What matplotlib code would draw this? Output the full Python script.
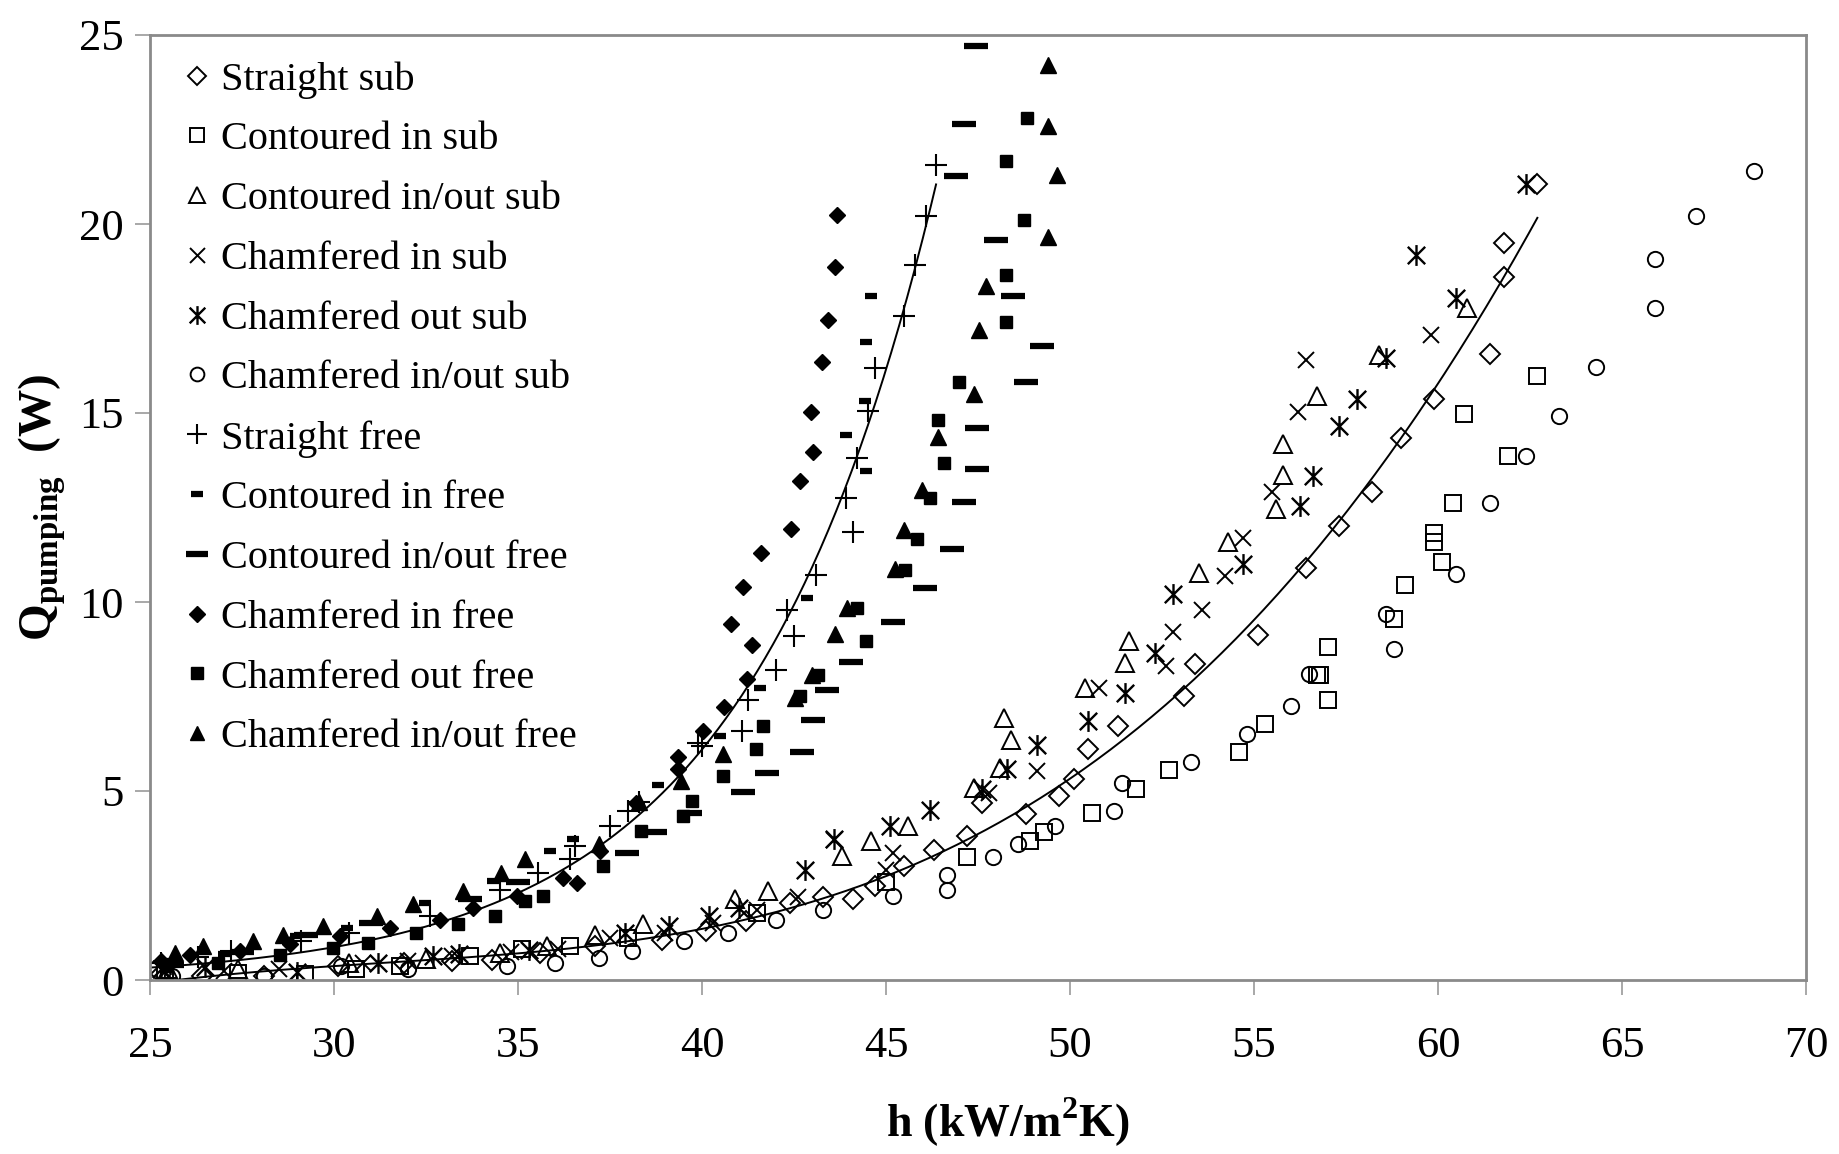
import numpy as np
import matplotlib
matplotlib.use("Agg")
import matplotlib.pyplot as plt
from matplotlib.path import Path

# ---------------- data (h in kW/m2K, Q in W) ----------------
straight_sub_h = [25.3, 26.4, 28.1, 30.1, 31.9, 33.2, 34.3, 35.6, 37.1, 38.9, 40.1, 41.2, 42.4, 43.3, 44.1,
                  44.7, 45.5, 46.3, 47.2, 47.6, 48.8, 49.7, 50.1, 50.5, 51.3, 53.1, 53.4, 55.1, 56.4, 57.3,
                  58.2, 59.0, 59.9, 61.4, 61.8, 61.8, 62.7]
straight_sub_q = [0.15, 0.10, 0.10, 0.37, 0.45, 0.50, 0.54, 0.72, 0.89, 1.07, 1.30, 1.55, 2.04, 2.20, 2.13,
                  2.48, 3.01, 3.45, 3.80, 4.69, 4.38, 4.86, 5.32, 6.10, 6.73, 7.52, 8.37, 9.12, 10.89, 12.02,
                  12.90, 14.33, 15.36, 16.56, 18.61, 19.51, 21.07]

cont_in_sub_h = [25.4, 27.4, 29.2, 30.6, 31.8, 33.7, 35.1, 36.4, 38.0, 41.5, 45.0, 47.2, 48.9, 49.3, 50.6,
                 51.8, 52.7, 54.6, 55.3, 56.7, 56.8, 57.0, 57.0, 58.8, 59.1, 59.9, 59.9, 60.1, 60.4, 60.7,
                 61.9, 62.7]
cont_in_sub_q = [0.20, 0.19, 0.15, 0.30, 0.37, 0.63, 0.81, 0.89, 1.10, 1.78, 2.60, 3.26, 3.67, 3.91, 4.42,
                 5.06, 5.55, 6.03, 6.76, 8.08, 8.08, 7.42, 8.80, 9.55, 10.45, 11.82, 11.58, 11.07, 12.62, 14.98,
                 13.85, 15.97]

cont_io_sub_h = [25.5, 27.4, 30.4, 32.5, 34.5, 35.8, 37.1, 38.4, 40.9, 41.8, 43.8, 44.6, 45.6, 47.4, 48.1,
                 48.4, 48.2, 50.4, 51.5, 51.6, 53.5, 54.3, 55.6, 55.8, 55.8, 56.7, 58.4, 60.8]
cont_io_sub_q = [0.30, 0.28, 0.45, 0.55, 0.72, 0.89, 1.20, 1.47, 2.13, 2.35, 3.27, 3.67, 4.07, 5.08, 5.61,
                 6.36, 6.93, 7.73, 8.39, 8.96, 10.76, 11.60, 12.47, 13.37, 14.17, 15.45, 16.54, 17.77]

cham_in_sub_h = [25.4, 27.0, 28.5, 30.8, 32.0, 33.2, 34.8, 36.1, 37.5, 39.0, 40.3, 41.5, 42.6, 43.6, 45.0,
                 45.2, 47.8, 49.1, 50.8, 52.6, 52.8, 53.6, 54.2, 54.7, 55.5, 56.2, 56.4, 59.8]
cham_in_sub_q = [0.20, 0.25, 0.30, 0.45, 0.50, 0.63, 0.75, 0.81, 1.10, 1.25, 1.50, 1.85, 2.20, 3.70, 2.92,
                 3.36, 4.95, 5.52, 7.73, 8.30, 9.20, 9.80, 10.70, 11.70, 12.90, 15.03, 16.39, 17.06]

cham_out_sub_h = [25.3, 26.5, 29.0, 31.2, 32.7, 33.4, 35.3, 37.9, 39.1, 40.2, 41.0, 42.8, 43.6, 45.1, 46.2,
                  47.6, 48.3, 49.1, 50.5, 51.5, 52.3, 52.8, 54.7, 56.25, 56.6, 57.3, 57.8, 58.6, 59.4, 60.5,
                  62.4]
cham_out_sub_q = [0.30, 0.35, 0.20, 0.45, 0.63, 0.68, 0.80, 1.25, 1.42, 1.69, 1.90, 2.92, 3.72, 4.07, 4.51,
                  5.04, 5.57, 6.23, 6.85, 7.60, 8.65, 10.20, 11.00, 12.53, 13.33, 14.65, 15.36, 16.45, 19.19, 18.05,
                  21.07]

cham_io_sub_h = [25.6, 28.1, 30.2, 32.0, 34.7, 36.0, 37.2, 38.1, 39.5, 40.7, 42.0, 43.3, 45.2, 46.65, 46.65,
                 47.9, 48.6, 49.6, 51.2, 51.4, 53.3, 54.8, 56.0, 56.5, 58.6, 58.8, 60.5, 61.4, 62.4, 63.3,
                 64.3, 65.9, 65.9, 67.0, 68.6]
cham_io_sub_q = [0.10, 0.10, 0.37, 0.30, 0.37, 0.45, 0.59, 0.76, 1.03, 1.25, 1.60, 1.86, 2.22, 2.79, 2.38,
                 3.26, 3.61, 4.07, 4.47, 5.22, 5.76, 6.52, 7.26, 8.10, 9.68, 8.75, 10.75, 12.62, 13.85, 14.91,
                 16.21, 17.77, 19.07, 20.20, 21.40]

straight_free_h = [25.3, 26.3, 27.2, 29.1, 30.4, 32.6, 34.5, 35.55, 36.4, 36.55, 37.5, 38.0, 38.3, 39.9, 40.0,
                   41.1, 41.25, 42.0, 42.5, 42.3, 43.1, 43.9, 44.1, 44.2, 44.5, 44.7, 45.5, 45.8, 46.1, 46.36]
straight_free_q = [0.45, 0.60, 0.76, 1.03, 1.25, 1.69, 2.39, 2.84, 3.19, 3.54, 4.07, 4.47, 4.70, 6.27, 6.20,
                   6.58, 7.42, 8.21, 9.09, 9.80, 10.72, 12.75, 11.84, 13.81, 15.04, 16.19, 17.56, 18.92, 20.22, 21.57]

cont_in_free_h = [25.5, 27.0, 28.98, 30.34, 32.47, 34.33, 35.87, 36.5, 38.8, 40.49, 41.57, 42.84, 43.91, 44.43,
                  44.47, 44.47, 44.58]
cont_in_free_q = [0.50, 0.70, 1.16, 1.38, 2.04, 2.61, 3.41, 3.72, 5.15, 6.45, 7.73, 10.11, 14.43, 15.31,
                  13.46, 16.87, 18.10]

cont_io_free_h = [25.6, 27.5, 29.25, 31.0, 33.69, 35.0, 37.95, 38.72, 39.67, 41.12, 41.76, 42.71, 43.02, 43.39,
                  44.04, 45.2, 46.06, 46.78, 47.13, 47.46, 47.46, 48.8, 49.23, 48.46, 47.98, 46.9, 47.13, 47.44]
cont_io_free_q = [0.40, 0.75, 1.20, 1.50, 2.13, 2.60, 3.36, 3.91, 4.42, 4.97, 5.48, 6.03, 6.87, 7.66,
                  8.41, 9.46, 10.37, 11.40, 12.64, 13.52, 14.60, 15.81, 16.78, 18.10, 19.57, 21.28, 22.65, 24.70]

cham_in_free_h = [25.3, 26.08, 27.44, 28.8, 30.16, 31.52, 32.88, 33.78, 34.96, 36.23, 36.59, 37.23, 38.22, 39.35,
                  39.35, 40.03, 40.6, 41.21, 41.35, 40.79, 41.12, 41.59, 42.43, 42.66, 42.95, 43.02, 43.27, 43.43,
                  43.61, 43.68]
cham_in_free_q = [0.50, 0.67, 0.76, 0.94, 1.16, 1.38, 1.60, 1.91, 2.22, 2.70, 2.57, 3.41, 4.69, 5.57,
                  5.90, 6.58, 7.21, 7.97, 8.87, 9.43, 10.40, 11.30, 11.93, 13.19, 15.03, 13.97, 16.34, 17.47,
                  18.85, 20.25]

cham_out_free_h = [25.45, 26.85, 28.53, 29.98, 30.93, 32.24, 33.38, 34.37, 35.19, 35.68, 37.32, 38.34, 39.49,
                   39.72, 40.58, 41.48, 41.66, 42.66, 43.16, 44.47, 44.2, 45.51, 45.83, 46.19, 46.58, 46.42,
                   46.99, 48.25, 48.26, 48.76, 48.26, 48.84]
cham_out_free_q = [0.37, 0.45, 0.67, 0.85, 0.98, 1.25, 1.47, 1.69, 2.08, 2.22, 3.01, 3.95, 4.33,
                   4.73, 5.39, 6.10, 6.71, 7.51, 8.08, 8.96, 9.84, 10.84, 11.67, 12.75, 13.68, 14.82,
                   15.81, 17.42, 18.66, 20.11, 21.67, 22.80]

cham_io_free_h = [25.68, 26.45, 27.8, 28.62, 29.71, 31.16, 32.15, 33.51, 34.55, 35.19, 37.2, 38.3, 39.44, 40.58,
                  42.52, 42.98, 43.61, 43.93, 45.24, 45.49, 45.97, 46.42, 47.39, 47.53, 47.71, 49.39, 49.64,
                  49.39, 49.39]
cham_io_free_q = [0.72, 0.89, 1.03, 1.20, 1.42, 1.69, 2.00, 2.35, 2.84, 3.19, 3.60, 4.70, 5.26, 5.99,
                  7.46, 8.08, 9.16, 9.84, 10.86, 11.91, 12.97, 14.37, 15.49, 17.20, 18.35, 19.66, 21.30,
                  22.58, 24.21]

labels = ["Straight sub", "Contoured in sub", "Contoured in/out sub", "Chamfered in sub",
          "Chamfered out sub", "Chamfered in/out sub", "Straight free", "Contoured in free",
          "Contoured in/out free", "Chamfered in free", "Chamfered out free", "Chamfered in/out free"]

x_ticks = [25, 30, 35, 40, 45, 50, 55, 60, 65, 70]
y_ticks = [0, 5, 10, 15, 20, 25]

# ---------------- style ----------------
plt.rcParams['font.family'] = ['Liberation Serif', 'DejaVu Serif']
plt.rcParams['mathtext.fontset'] = 'custom'
plt.rcParams['mathtext.rm'] = 'Liberation Serif'
plt.rcParams['mathtext.bf'] = 'Liberation Serif:bold'

# asterisk marker: X plus vertical bar
ast_verts = [(-0.5, -0.5), (0.5, 0.5), (-0.5, 0.5), (0.5, -0.5), (0, -0.6), (0, 0.6)]
ast_codes = [Path.MOVETO, Path.LINETO, Path.MOVETO, Path.LINETO, Path.MOVETO, Path.LINETO]
asterisk = Path(ast_verts, ast_codes)

K = 'black'
styles = [
    dict(marker='D', ms=10.5, mfc='none', mec=K, mew=1.4),
    dict(marker='s', ms=11, mfc='none', mec=K, mew=1.4),
    dict(marker='^', ms=12.5, mfc='none', mec=K, mew=1.4),
    dict(marker='x', ms=12, mfc='none', mec=K, mew=1.4),
    dict(marker=asterisk, ms=15, mfc='none', mec=K, mew=1.7),
    dict(marker='o', ms=11, mfc='none', mec=K, mew=1.4),
    dict(marker='+', ms=16, mfc='none', mec=K, mew=1.5),
    dict(marker='_', ms=9, mfc='none', mec=K, mew=4.5),
    dict(marker='_', ms=17, mfc='none', mec=K, mew=4.5),
    dict(marker='D', ms=8.5, mfc=K, mec=K, mew=1),
    dict(marker='s', ms=9, mfc=K, mec=K, mew=1),
    dict(marker='^', ms=11, mfc=K, mec=K, mew=1),
]

series = [(straight_sub_h, straight_sub_q), (cont_in_sub_h, cont_in_sub_q), (cont_io_sub_h, cont_io_sub_q),
          (cham_in_sub_h, cham_in_sub_q), (cham_out_sub_h, cham_out_sub_q), (cham_io_sub_h, cham_io_sub_q),
          (straight_free_h, straight_free_q), (cont_in_free_h, cont_in_free_q), (cont_io_free_h, cont_io_free_q),
          (cham_in_free_h, cham_in_free_q), (cham_out_free_h, cham_out_free_q), (cham_io_free_h, cham_io_free_q)]

fig = plt.figure(figsize=(18.39, 11.54), dpi=100)
ax = fig.add_axes([150/1839, 1 - 980/1154, (1806-150)/1839, (980-35)/1154])

handles = []
for (hx, qy), st, lab in zip(series, styles, labels):
    ln, = ax.plot(hx, qy, linestyle='none', label=lab, **st)
    handles.append(ln)

# trend line for the substrate group: cubic fit of the straight-sub data
hs = np.asarray(straight_sub_h); qs = np.asarray(straight_sub_q)
coef = np.polyfit(hs, qs, 3)
xs = np.linspace(25, hs.max(), 300)
ax.plot(xs, np.polyval(coef, xs), color='black', lw=1.4)

# trend line for the free group: exponential fit (weighted) of the straight-free data
hf = np.asarray(straight_free_h); qf = np.asarray(straight_free_q)
b, a = np.polyfit(hf, np.log(qf), 1, w=qf)
xf = np.linspace(25, hf.max(), 300)
ax.plot(xf, np.exp(a + b * xf), color='black', lw=1.4)

ax.set_xlim(25, 70)
ax.set_ylim(0, 25)
ax.set_xticks(x_ticks)
ax.set_yticks(y_ticks)
ax.tick_params(axis='both', direction='out', length=11, width=1.2, color='#9a9a9a', labelsize=32)
ax.tick_params(axis='x', pad=22)
ax.tick_params(axis='y', pad=8)
for s in ax.spines.values():
    s.set_color('#8a8a8a')
    s.set_linewidth(2)

ax.set_xlabel(r'h (kW/m$^{\mathbf{2}}$K)', fontsize=33, fontweight='bold', labelpad=22, x=0.518)
ax.set_ylabel(r'Q$_{\mathbf{pumping}}$  (W)', fontsize=34, fontweight='bold', labelpad=8)

leg = ax.legend(handles=handles, loc='upper left', bbox_to_anchor=(0.005, 1.0), frameon=False,
                fontsize=29, handlelength=0.6, handletextpad=0.3, labelspacing=0.56, borderaxespad=0.25,
                markerscale=0.9)

fig.savefig('out.png', dpi=100)
